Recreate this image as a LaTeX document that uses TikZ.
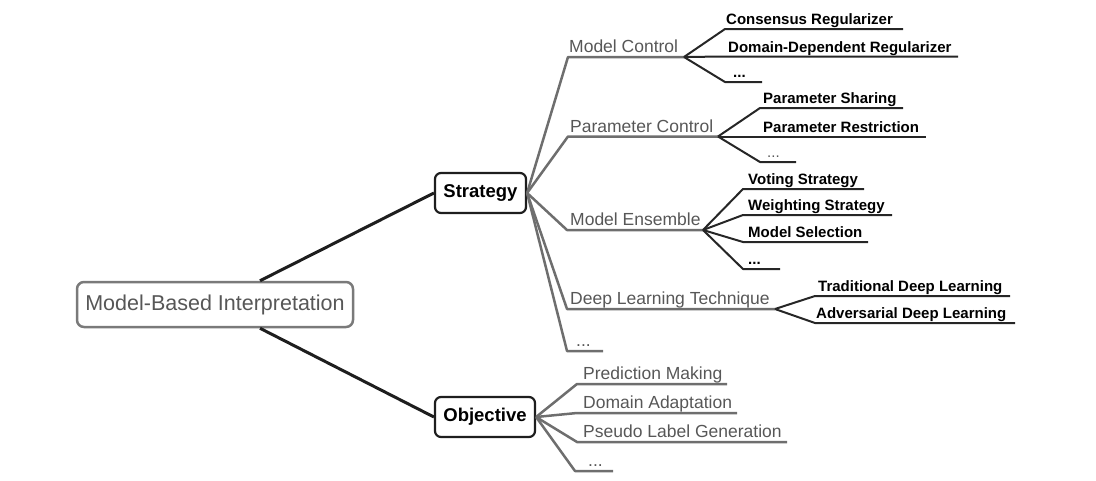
\documentclass[tikz,border=0pt]{standalone}
\usepackage{fontspec}
\setmainfont{Liberation Sans}
\usepackage{tikz}
\usepackage{xcolor}
\definecolor{grisrama}{HTML}{6E6E6E}
\definecolor{gristexto}{HTML}{575757}
\definecolor{grisborde}{HTML}{7A7A7A}
\definecolor{grisoscuro}{HTML}{262626}
\definecolor{negro}{HTML}{1E1E1E}

\begin{document}
\begin{tikzpicture}[x=1pt,y=-1pt,line join=round,
	caja/.style={draw=negro, line width=2.2pt, rounded corners=6pt, fill=white, inner sep=0pt, minimum height=40pt, font=\fontsize{18.5}{22}\selectfont\bfseries},
	raiz/.style={draw=grisborde, line width=2.5pt, rounded corners=7pt, fill=white, text=gristexto, minimum width=276pt, minimum height=45pt, font=\fontsize{21.5}{25}\selectfont},
	nivel/.style={anchor=south west, inner xsep=3pt, inner ysep=4pt, text depth=0pt, text=gristexto, font=\fontsize{17.5}{20}\selectfont},
	hoja/.style={anchor=south west, inner xsep=3pt, inner ysep=4pt, text depth=0pt, font=\fontsize{15}{18}\selectfont\bfseries},
	rama/.style={draw=grisrama, line width=2.5pt},
	sub/.style={draw=grisoscuro, line width=2pt},
	tronco/.style={draw=negro, line width=3pt}]
	\useasboundingbox (0,0) rectangle (1096,480);
	\node [raiz] (mbi) at (215,304.5) {Model-Based Interpretation};
	\node [caja, minimum width=91pt] (estr) at (480.5,193) {Strategy};
	\node [caja, minimum width=100pt] (obj) at (485,417) {Objective};
	\draw [tronco] ([xshift=45pt]mbi.north) -- (estr.west);
	\draw [tronco] ([xshift=45pt]mbi.south) -- (obj.west);
	% ramas de Strategy
	\node [nivel, inner xsep=1pt] (mc) at (568,57) {Model Control};
	\draw [rama] (estr.east) -- (mc.south west) -- (684,57) coordinate (mc-f);
	\node [nivel, inner xsep=2pt] (pc) at (568,136.5) {Parameter Control};
	\draw [rama] (estr.east) -- (pc.south west) -- (718,136.5) coordinate (pc-f);
	\node [nivel] (me) at (567,230) {Model Ensemble};
	\draw [rama] (estr.east) -- (me.south west) -- (703,230) coordinate (me-f);
	\node [nivel] (dl) at (567,309) {Deep Learning Technique};
	\draw [rama] (estr.east) -- (dl.south west) -- (775,309) coordinate (dl-f);
	\node [nivel, inner xsep=9pt] (ep) at (567,351) {...};
	\draw [rama] (estr.east) -- (ep.south west) -- (603,351) coordinate (ep-f);
	% Model Control
	\node [hoja, inner xsep=1pt] (cr) at (725,29) {Consensus Regularizer};
	\draw [sub] (mc-f) -- (cr.south west) -- (903,29) coordinate (cr-f);
	\node [hoja] (ddr) at (725,56.5) {Domain-Dependent Regularizer};
	\draw [sub] (mc-f) -- (ddr.south west) -- (958,56.5) coordinate (ddr-f);
	\node [hoja, inner xsep=8pt] (mcp) at (725,82) {...};
	\draw [sub] (mc-f) -- (mcp.south west) -- (762,82) coordinate (mcp-f);
	% Parameter Control
	\node [hoja] (ps) at (760,108) {Parameter Sharing};
	\draw [sub] (pc-f) -- (ps.south west) -- (903,108) coordinate (ps-f);
	\node [hoja] (pr) at (760,136.5) {Parameter Restriction};
	\draw [sub] (pc-f) -- (pr.south west) -- (926,136.5) coordinate (pr-f);
	\node [hoja, inner xsep=7pt, text=gristexto, font=\fontsize{15}{18}\selectfont] (pcp) at (760,162) {...};
	\draw [sub] (pc-f) -- (pcp.south west) -- (796,162) coordinate (pcp-f);
	% Model Ensemble
	\node [hoja, inner xsep=5pt] (vs) at (743,189) {Voting Strategy};
	\draw [sub] (me-f) -- (vs.south west) -- (864,189) coordinate (vs-f);
	\node [hoja, inner xsep=5pt] (ws) at (743,215) {Weighting Strategy};
	\draw [sub] (me-f) -- (ws.south west) -- (892,215) coordinate (ws-f);
	\node [hoja, inner xsep=5pt] (ms) at (743,242) {Model Selection};
	\draw [sub] (me-f) -- (ms.south west) -- (868,242) coordinate (ms-f);
	\node [hoja, inner xsep=5pt] (mep) at (743,269) {...};
	\draw [sub] (me-f) -- (mep.south west) -- (780,269) coordinate (mep-f);
	% Deep Learning Technique
	\node [hoja] (tdl) at (815,296) {Traditional Deep Learning};
	\draw [sub] (dl-f) -- (tdl.south west) -- (1010,296) coordinate (tdl-f);
	\node [hoja, inner xsep=1pt] (adl) at (815,323) {Adversarial Deep Learning};
	\draw [sub] (dl-f) -- (adl.south west) -- (1015,323) coordinate (adl-f);
	% ramas de Objective
	\node [nivel, inner xsep=6pt] (pm) at (577,384) {Prediction Making};
	\draw [rama] (obj.east) -- (pm.south west) -- (727,384) coordinate (pm-f);
	\node [nivel, inner xsep=6pt] (da) at (577,413) {Domain Adaptation};
	\draw [rama] (obj.east) -- (da.south west) -- (737,413) coordinate (da-f);
	\node [nivel, inner xsep=6pt] (plg) at (577,442) {Pseudo Label Generation};
	\draw [rama] (obj.east) -- (plg.south west) -- (787,442) coordinate (plg-f);
	\node [nivel, inner xsep=13pt] (op) at (575,471) {...};
	\draw [rama] (obj.east) -- (op.south west) -- (613,471) coordinate (op-f);
\end{tikzpicture}
\end{document}
